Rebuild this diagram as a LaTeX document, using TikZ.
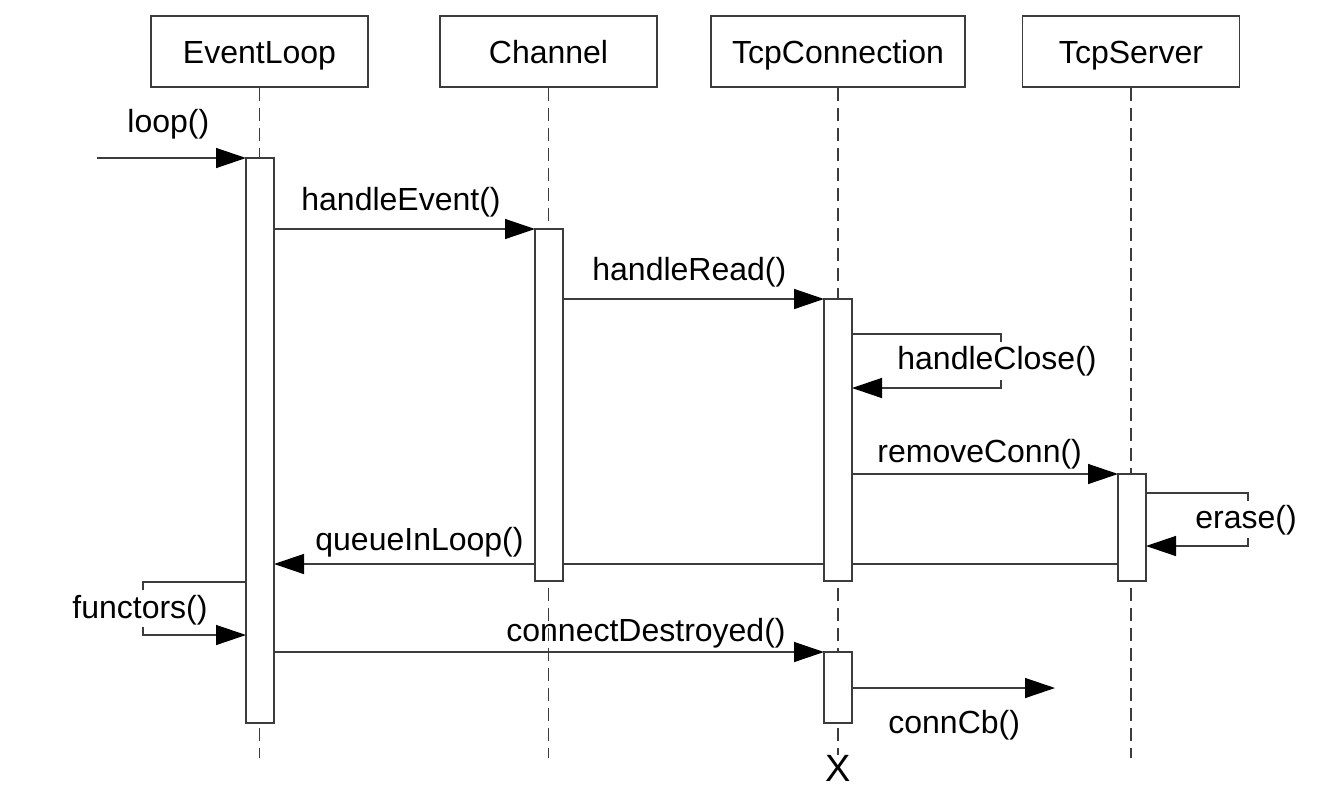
\documentclass[tikz,border=0pt]{standalone}
\usepackage{fontspec}
\setmainfont{Liberation Sans}
\usetikzlibrary{arrows.meta,positioning,backgrounds}
\definecolor{linegray}{RGB}{60,60,60}
\tikzset{
    % Sequence diagram styles
    objbox/.style={
        rectangle, draw=linegray, line width=0.7pt, fill=white,
        minimum width=108.5pt, minimum height=35.5pt, inner sep=0pt,
        text height=11.5pt, text depth=0pt,
        font=\fontsize{16}{19}\selectfont
    },
    lifeline/.style={
        draw=linegray, line width=0.7pt, dash pattern=on 6.5pt off 3.5pt
    },
    actbar/.style={
        rectangle, draw=linegray, line width=0.7pt, fill=white,
        anchor=north, minimum width=14pt, inner sep=0pt, outer sep=0pt
    },
    selfline/.style={
        draw=linegray, line width=0.7pt
    },
    msg/.style={
        draw=linegray, line width=0.7pt,
        -{Triangle[length=15pt,width=10pt,color=black,fill=black]}
    },
    msglabel/.style={
        anchor=base west, inner sep=0pt, font=\fontsize{16}{19}\selectfont
    }
}
\begin{document}
\begin{tikzpicture}[x=0.5pt,y=-0.5pt]
\useasboundingbox (0,0) rectangle (1330,789);

% Object boxes
\node[objbox] (evl) at (259.5,51.5) {EventLoop};
\node[objbox] (chn) at (548.5,51.5) {Channel};
\node[objbox, minimum width=127pt] (tcpc) at (838,51.5) {TcpConnection};
\node[objbox] (tcps) at (1131,51.5) {TcpServer};

% Activation bars
\node[actbar, minimum height=282.5pt] (barEL) at (260,158) {};
\node[actbar, minimum height=176pt] (barCH) at (549,229) {};
\node[actbar, minimum height=141pt] (barTC) at (838,299) {};
\node[actbar, minimum height=53.5pt] (barTS) at (1132,474) {};
\node[actbar, minimum height=35.5pt] (barTC2) at (838,652) {};

% Destruction mark
\node[inner sep=0pt, font=\fontsize{19}{22}\selectfont] (destroy) at (838,768) {X};

% Free ends and rows
\coordinate (loopStart) at (97,158);
\coordinate (hcTop) at (1001,334);
\coordinate (hcBot) at (1001,388);
\coordinate (erTop) at (1248,493);
\coordinate (erBot) at (1248,546);
\coordinate (qilRow) at (0,564);
\coordinate (fnTop) at (143,582);
\coordinate (fnBot) at (143,635);
\coordinate (cbEnd) at (1055,688);

% Lifelines and the long return call behind the bars
\begin{pgfonlayer}{background}
\foreach \o in {evl,chn,tcps}
    \draw[lifeline] (\o.south) -- ++(0,670);
\draw[lifeline] (tcpc.south) -- (destroy.north);
\draw[msg] (barTS.west |- qilRow) -- (barEL.east |- qilRow);
\end{pgfonlayer}

% Messages
\draw[msg] (loopStart) -- (barEL.north west);
\draw[msg] (barEL.east |- barCH.north) -- (barCH.north west);
\draw[msg] (barCH.east |- barTC.north) -- (barTC.north west);
\draw[msg] (barTC.east |- barTS.north) -- (barTS.north west);
\draw[msg] (barEL.east |- barTC2.north) -- (barTC2.north west);
\draw[msg] (barTC2.east |- cbEnd) -- (cbEnd);

% Self calls
\draw[selfline] (barTC.east |- hcTop) -- (hcTop) -- ++(0,8);
\draw[msg] ([yshift=4pt]hcBot) -- (hcBot) -- (barTC.east |- hcBot);
\draw[selfline] (barTS.east |- erTop) -- (erTop) -- ++(0,8);
\draw[msg] ([yshift=4pt]erBot) -- (erBot) -- (barTS.east |- erBot);
\draw[selfline] (barEL.west |- fnTop) -- (fnTop) -- ++(0,8);
\draw[msg] ([yshift=4pt]fnBot) -- (fnBot) -- (barEL.west |- fnBot);

% Message labels
\node[msglabel] (lblLoop) at (127,132) {loop()};
\node[msglabel] (lblEvent) at (301,210) {handleEvent()};
\node[msglabel] (lblRead) at (592,280) {handleRead()};
\node[msglabel] (lblClose) at (897,369) {handleClose()};
\node[msglabel] (lblRemove) at (877,462) {removeConn()};
\node[msglabel] (lblErase) at (1195,528) {erase()};
\node[msglabel] (lblQueue) at (315,550) {queueInLoop()};
\node[msglabel] (lblFunc) at (72,618) {functors()};
\node[msglabel] (lblDestroy) at (506,641) {connectDestroyed()};
\node[msglabel] (lblCb) at (888,733) {connCb()};

\end{tikzpicture}
\end{document}
